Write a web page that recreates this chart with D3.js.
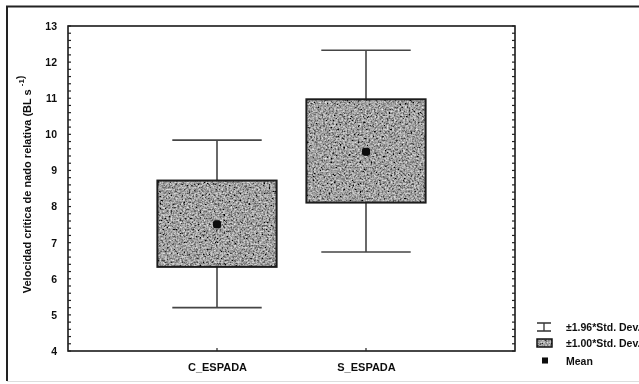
<!DOCTYPE html>
<html>
<head>
<meta charset="utf-8">
<script src="https://cdn.jsdelivr.net/npm/d3@7"></script>
<style>
  html, body { margin: 0; padding: 0; background: #fff; }
  svg { display: block; }
  text { font-family: "Liberation Sans", Arial, sans-serif; font-weight: bold; fill: #111; }
</style>
</head>
<body>
<svg id="chart" width="639" height="384"></svg>
<script>
// Groups and their summary statistics (mean, ±1 SD box, ±1.96 SD whiskers)
const groups = ["C_ESPADA", "S_ESPADA"];
const means = [7.51, 9.52];
const boxLow = [6.33, 8.11];
const boxHigh = [8.72, 10.97];
const whiskerLow = [5.20, 6.74];
const whiskerHigh = [9.84, 12.33];
const yTicks = [4, 5, 6, 7, 8, 9, 10, 11, 12, 13];
const legendLabels = ["\u00b11.96*Std. Dev.", "\u00b11.00*Std. Dev.", "Mean"];

const svg = d3.select("#chart");
const W = 639, H = 384;
const plot = { left: 68, top: 26, right: 515, bottom: 351 };

// Grain texture for the box fill
const defs = svg.append("defs");
const f = defs.append("filter").attr("id", "grain")
  .attr("x", 0).attr("y", 0).attr("width", 1).attr("height", 1);
f.append("feTurbulence").attr("type", "fractalNoise").attr("baseFrequency", 0.55)
  .attr("numOctaves", 2).attr("seed", 4).attr("result", "noise");
f.append("feColorMatrix").attr("in", "noise").attr("type", "saturate").attr("values", 0).attr("result", "g");
const ct = f.append("feComponentTransfer").attr("in", "g").attr("result", "t");
["feFuncR", "feFuncG", "feFuncB"].forEach(fn =>
  ct.append(fn).attr("type", "linear").attr("slope", 1.7).attr("intercept", -0.5));
ct.append("feFuncA").attr("type", "discrete").attr("tableValues", "1");
f.append("feComposite").attr("in", "t").attr("in2", "SourceGraphic").attr("operator", "in");

const soft = defs.append("filter").attr("id", "soft");
soft.append("feGaussianBlur").attr("stdDeviation", 0.35);

// Outer frame (left and top edges)
svg.append("path")
  .attr("d", `M7,${H - 3}V6.5H${W + 2}`)
  .attr("fill", "none").attr("stroke", "#222").attr("stroke-width", 2);
svg.append("line")
  .attr("x1", 7).attr("x2", W).attr("y1", 381.5).attr("y2", 381.5)
  .attr("stroke", "#ddd").attr("stroke-width", 1);

const x = d3.scalePoint().domain(groups).range([plot.left, plot.right]).padding(1);
const y = d3.scaleLinear().domain([4, 13]).range([plot.bottom, plot.top]);
const step = x.step();

const g = svg.append("g").attr("filter", "url(#soft)");

// Plot frame
g.append("rect")
  .attr("x", plot.left).attr("y", plot.top)
  .attr("width", plot.right - plot.left).attr("height", plot.bottom - plot.top)
  .attr("fill", "#fff").attr("stroke", "#1a1a1a").attr("stroke-width", 1.6);

// Left axis: labels with inward major and minor ticks
const minor = d3.range(4, 13.001, 0.2);
const leftAxis = d3.axisLeft(y).tickValues(yTicks).tickFormat(d3.format("d"))
  .tickSize(0).tickPadding(11);
const la = g.append("g").attr("transform", `translate(${plot.left},0)`).call(leftAxis);
la.select(".domain").remove();
la.selectAll("text").style("font-size", "10.5px")
  .style("font-family", "'Liberation Sans', Arial, sans-serif").style("font-weight", "bold").attr("fill", "#111");

g.append("g").selectAll("line").data(minor).join("line")
  .attr("x1", plot.left).attr("x2", plot.left + 3)
  .attr("y1", d => y(d)).attr("y2", d => y(d))
  .attr("stroke", "#222").attr("stroke-width", 1.2);
g.append("g").selectAll("line").data(minor).join("line")
  .attr("x1", plot.right).attr("x2", plot.right - 3)
  .attr("y1", d => y(d)).attr("y2", d => y(d))
  .attr("stroke", "#222").attr("stroke-width", 1.2);

// Bottom axis: category labels with small inward ticks
const bottomAxis = d3.axisBottom(x).tickSize(0).tickPadding(12);
const ba = g.append("g").attr("transform", `translate(0,${plot.bottom})`).call(bottomAxis);
ba.select(".domain").remove();
ba.selectAll("text").style("font-size", "11px")
  .style("font-family", "'Liberation Sans', Arial, sans-serif").style("font-weight", "bold").attr("fill", "#111");
g.append("g").selectAll("line").data(groups).join("line")
  .attr("x1", d => x(d)).attr("x2", d => x(d))
  .attr("y1", plot.bottom).attr("y2", plot.bottom - 3)
  .attr("stroke", "#222").attr("stroke-width", 1.2);

// Y axis title
const yt = g.append("text")
  .attr("transform", `translate(31,${(plot.top + plot.bottom) / 2 - 4}) rotate(-90)`)
  .attr("text-anchor", "middle")
  .style("font-size", "11px");
yt.append("tspan").text("Velocidad crítica de nado relativa (BL s ");
yt.append("tspan").attr("dy", -7).style("font-size", "8px").text("-1");
yt.append("tspan").attr("dy", 0).style("font-size", "10px").text(")");

// Whiskers (±1.96 SD)
const capW = step * 0.6;
const boxW = step * 0.8;
const wg = g.append("g");
groups.forEach((k, i) => {
  const cx = x(k);
  wg.append("line").attr("x1", cx).attr("x2", cx)
    .attr("y1", y(whiskerLow[i])).attr("y2", y(whiskerHigh[i]))
    .attr("stroke", "#444").attr("stroke-width", 1.6);
  [whiskerLow[i], whiskerHigh[i]].forEach(v => {
    wg.append("line").attr("x1", cx - capW / 2).attr("x2", cx + capW / 2)
      .attr("y1", y(v)).attr("y2", y(v))
      .attr("stroke", "#444").attr("stroke-width", 1.6);
  });
});

// Boxes (±1 SD)
groups.forEach((k, i) => {
  const cx = x(k);
  g.append("rect")
    .attr("x", cx - boxW / 2).attr("y", y(boxHigh[i]))
    .attr("width", boxW).attr("height", y(boxLow[i]) - y(boxHigh[i]))
    .attr("fill", "#777").attr("filter", "url(#grain)");
  g.append("rect")
    .attr("x", cx - boxW / 2).attr("y", y(boxHigh[i]))
    .attr("width", boxW).attr("height", y(boxLow[i]) - y(boxHigh[i]))
    .attr("fill", "none").attr("stroke", "#1a1a1a").attr("stroke-width", 2);
});

// Means
g.append("g").selectAll("rect").data(groups).join("rect")
  .attr("x", d => x(d) - 4).attr("y", (d, i) => y(means[i]) - 4)
  .attr("width", 8).attr("height", 8).attr("rx", 2.5)
  .attr("fill", "#0a0a0a");

// Legend
const lg = g.append("g");
const lx = 537, ly = [327, 343, 361];
// whisker symbol
lg.append("path")
  .attr("d", `M${lx},${ly[0] - 4}H${lx + 14}M${lx},${ly[0] + 4}H${lx + 14}M${lx + 7},${ly[0] - 4}V${ly[0] + 4}`)
  .attr("fill", "none").attr("stroke", "#333").attr("stroke-width", 1.3);
// box symbol
lg.append("rect").attr("x", lx).attr("y", ly[1] - 4).attr("width", 15).attr("height", 8)
  .attr("fill", "#777").attr("filter", "url(#grain)");
lg.append("rect").attr("x", lx).attr("y", ly[1] - 4).attr("width", 15).attr("height", 8)
  .attr("fill", "none").attr("stroke", "#111").attr("stroke-width", 1.5);
// mean symbol
lg.append("rect").attr("x", lx + 5).attr("y", ly[2] - 3.5).attr("width", 6).attr("height", 6)
  .attr("fill", "#0a0a0a");
lg.selectAll("text").data(legendLabels).join("text")
  .attr("x", 566).attr("y", (d, i) => ly[i] + 3.5)
  .style("font-size", "10.5px")
  .text(d => d);
</script>
</body>
</html>
